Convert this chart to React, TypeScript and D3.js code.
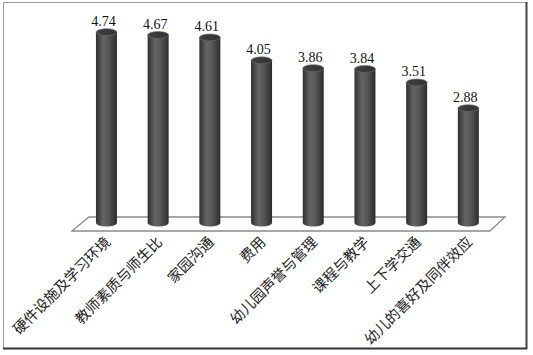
import React from "react";
import * as d3 from "d3";

const categories = [
  "硬件设施及学习环境",
  "教师素质与师生比",
  "家园沟通",
  "费用",
  "幼儿园声誉与管理",
  "课程与教学",
  "上下学交通",
  "幼儿的喜好及同伴效应",
];
const values = [4.74, 4.67, 4.61, 4.05, 3.86, 3.84, 3.51, 2.88];

const W = 533;
const H = 355;

export default function App() {
  const x = d3.scaleBand<string>().domain(categories).range([80.6, 494.2]).padding(0);
  const y = d3.scaleLinear().domain([0, 5]).range([226, 21.5]);
  const bw = 21;
  const rx = bw / 2;
  const ry = 3.5;
  const base = y(0) - 3;

  return (
    <svg width={W} height={H} style={{ position: "absolute", left: 0, top: 0, background: "#fff" }}>
      <defs>
        <linearGradient id="cyl" x1="0" x2="1" y1="0" y2="0">
          <stop offset="0" stopColor="#303030" />
          <stop offset="0.35" stopColor="#646464" />
          <stop offset="0.6" stopColor="#575757" />
          <stop offset="1" stopColor="#2c2c2c" />
        </linearGradient>
        <linearGradient id="cap" x1="0" x2="1" y1="0" y2="0">
          <stop offset="0" stopColor="#404040" />
          <stop offset="1" stopColor="#333" />
        </linearGradient>
      </defs>
      {/* frame */}
      <line x1={3} y1={2.5} x2={527} y2={2.5} stroke="#9a9a9a" strokeWidth={1} />
      <line x1={3.5} y1={2} x2={3.5} y2={349} stroke="#9a9a9a" strokeWidth={1} />
      <line x1={526.5} y1={2} x2={526.5} y2={349} stroke="#444" strokeWidth={2} />
      <line x1={3} y1={348.5} x2={527} y2={348.5} stroke="#333" strokeWidth={2} />
      {/* floor */}
      <polygon
        points="72,231 490,231 505,217 89,217"
        fill="#fdfdfd"
        stroke="#8a8a8a"
        strokeWidth={1.3}
      />
      {categories.map((c, i) => {
        const cx = (x(c) as number) + x.bandwidth() / 2;
        const x0 = cx - rx;
        const x1 = cx + rx;
        const top = y(values[i]);
        const d = `M${x0},${top} L${x0},${base} A${rx},${ry} 0 0 0 ${x1},${base} L${x1},${top} Z`;
        return (
          <g key={c}>
            <path d={d} fill="url(#cyl)" />
            <ellipse cx={cx} cy={top} rx={rx} ry={ry} fill="url(#cap)" stroke="#707070" strokeWidth={0.6} />
            <text
              x={cx - 3}
              y={top - 6}
              textAnchor="middle"
              fontFamily="'Liberation Serif', 'DejaVu Serif', serif"
              fontSize={14}
              fill="#111"
            >
              {values[i].toFixed(2)}
            </text>
            <text
              transform={`translate(${cx + 5},${243}) rotate(-45)`}
              textAnchor="end"
              fontFamily="'Noto Sans CJK SC', sans-serif"
              fontSize={14.5}
              fill="#222"
            >
              {c}
            </text>
          </g>
        );
      })}
    </svg>
  );
}
